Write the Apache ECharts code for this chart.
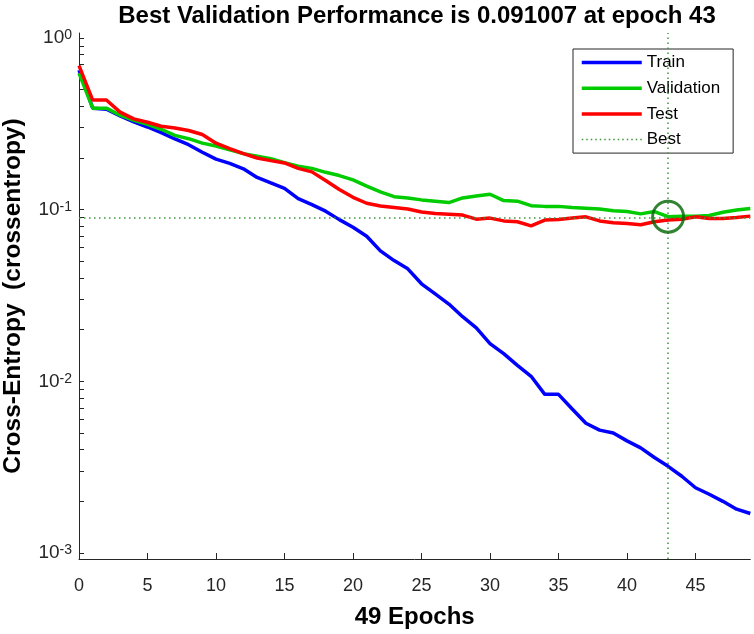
<!DOCTYPE html>
<html><head><meta charset="utf-8">
<script src="https://cdn.jsdelivr.net/npm/echarts@6/dist/echarts.min.js"></script>
<style>html,body{margin:0;padding:0;background:#fff}#c{width:754px;height:634px}</style>
</head><body><div id="c"></div>
<script>
const epochs = [0,1,2,3,4,5,6,7,8,9,10,11,12,13,14,15,16,17,18,19,20,21,22,23,24,25,26,27,28,29,30,31,32,33,34,35,36,37,38,39,40,41,42,43,44,45,46,47,48,49];
const train = [0.65,0.39,0.385,0.352,0.325,0.303,0.281,0.258,0.239,0.216,0.197,0.186,0.173,0.154,0.143,0.133,0.116,0.107,0.098,0.0875,0.079,0.070,0.0575,0.0505,0.0452,0.037,0.0323,0.0282,0.0238,0.0205,0.0166,0.0145,0.0124,0.0107,0.0084,0.0084,0.0069,0.0057,0.0052,0.0050,0.0045,0.0041,0.0036,0.0032,0.0028,0.0024,0.0022,0.0020,0.0018,0.0017];
const validation = [0.625,0.39,0.39,0.355,0.331,0.314,0.294,0.271,0.259,0.244,0.235,0.223,0.212,0.205,0.198,0.188,0.179,0.174,0.165,0.158,0.149,0.137,0.127,0.119,0.117,0.114,0.112,0.110,0.117,0.120,0.123,0.113,0.112,0.1055,0.1045,0.1045,0.103,0.102,0.101,0.0985,0.0975,0.0945,0.0975,0.091007,0.0915,0.0915,0.0925,0.0965,0.0995,0.1015];
const test = [0.69,0.435,0.435,0.37,0.338,0.323,0.306,0.299,0.289,0.274,0.244,0.227,0.212,0.200,0.193,0.187,0.174,0.166,0.148,0.131,0.118,0.109,0.105,0.103,0.101,0.097,0.095,0.094,0.093,0.088,0.0893,0.086,0.085,0.0805,0.087,0.0876,0.0893,0.0908,0.086,0.084,0.083,0.0816,0.085,0.087,0.088,0.0908,0.0888,0.0888,0.090,0.0917];
const bestEpoch = 43;
const bestValue = 0.091007;
const xTickValues = [0,5,10,15,20,25,30,35,40,45];
const yTickValues = [0.001,0.01,0.1,1];
const yMinorTickValues = [0.002,0.003,0.004,0.005,0.006,0.007,0.008,0.009,0.02,0.03,0.04,0.05,0.06,0.07,0.08,0.09,0.2,0.3,0.4,0.5,0.6,0.7,0.8,0.9];
const titleText = 'Best Validation Performance is 0.091007 at epoch 43';
const xName = '49 Epochs';
const yName = 'Cross-Entropy  (crossentropy)';

const FONT = '"Liberation Sans", Arial, Helvetica, sans-serif';
const AX = '#262626';
const chart = echarts.init(document.getElementById('c'), null, {renderer:'canvas'});
const pairs = arr => epochs.map((e,i)=>[e, arr[i]]);
chart.setOption({
  animation:false,
  backgroundColor:'#fff',
  title:{text:titleText, left:412, top:-1, textAlign:'center',
    textStyle:{fontSize:24, fontWeight:'bold', color:'#000', fontFamily:FONT}},
  legend:{
    data:['Train','Validation','Test','Best'],
    orient:'vertical', left:573, top:49,
    padding:[5,13,5,7], itemWidth:60, itemHeight:17, itemGap:8.7,
    backgroundColor:'#fff', borderColor:AX, borderWidth:1, borderRadius:0,
    itemStyle:{opacity:0},
    lineStyle:{width:'inherit'},
    textStyle:{fontSize:17, color:'#000', fontFamily:FONT},
    selectedMode:false
  },
  grid:{left:79, right:3.7, top:33, bottom:75, containLabel:false, outerBoundsMode:'none'},
  xAxis:{
    type:'value', min:0, max:49,
    axisLine:{show:true, onZero:false, lineStyle:{color:AX, width:1}},
    axisTick:{show:true, inside:true, length:6, lineStyle:{color:AX}, customValues:xTickValues},
    axisLabel:{customValues:xTickValues, margin:18, fontSize:18, color:AX, fontFamily:FONT},
    splitLine:{show:false},
    name:xName, nameLocation:'middle', nameGap:46,
    nameTextStyle:{fontSize:24, fontWeight:'bold', color:'#000', fontFamily:FONT}
  },
  yAxis:{
    type:'log', logBase:10, min:0.000923, max:1.069,
    axisLine:{show:true, lineStyle:{color:AX, width:1}},
    axisTick:{show:true, inside:true, length:5, lineStyle:{color:AX}, customValues:yTickValues.concat(yMinorTickValues)},
    axisLabel:{customValues:yTickValues, margin:7,
      formatter: v => '{b|10}{s|' + Math.round(Math.log10(v)) + '}',
      rich:{
        b:{fontSize:19, color:AX, fontFamily:FONT, lineHeight:19, padding:[6,0,0,0], verticalAlign:'bottom'},
        s:{fontSize:14, color:AX, fontFamily:FONT, lineHeight:14, verticalAlign:'top'}
      }},
    splitLine:{show:false},
    name:yName, nameLocation:'middle', nameGap:53,
    nameTextStyle:{fontSize:24.5, fontWeight:'bold', color:'#000', fontFamily:FONT}
  },
  series:[
    {name:'Train', type:'line', data:pairs(train), symbol:'none', showSymbol:false,
      lineStyle:{color:'#0000ff', width:3.5}, itemStyle:{color:'#0000ff'}, z:2},
    {name:'Validation', type:'line', data:pairs(validation), symbol:'none', showSymbol:false,
      lineStyle:{color:'#00cc00', width:3.5}, itemStyle:{color:'#00cc00'}, z:3},
    {name:'Test', type:'line', data:pairs(test), symbol:'none', showSymbol:false,
      lineStyle:{color:'#ff0000', width:3.5}, itemStyle:{color:'#ff0000'}, z:4},
    {name:'Best', type:'line', data:[[bestEpoch,bestValue]], symbol:'none', showSymbol:false,
      lineStyle:{color:'#3c963c', width:1.5, type:[1.5,3]}, itemStyle:{color:'#3c963c'}, z:5,
      markLine:{silent:true, symbol:['none','none'], label:{show:false}, animation:false,
        lineStyle:{color:'#3c963c', width:1.5, type:[1.5,3.5]},
        data:[{xAxis:bestEpoch},{yAxis:bestValue}]}},
    {name:'bestCircle', type:'scatter', data:[[bestEpoch,bestValue]], symbol:'circle', symbolSize:31,
      itemStyle:{color:'rgba(0,0,0,0)', borderColor:'#006400', borderWidth:3}, z:6, silent:true}
  ]
});
</script></body></html>
